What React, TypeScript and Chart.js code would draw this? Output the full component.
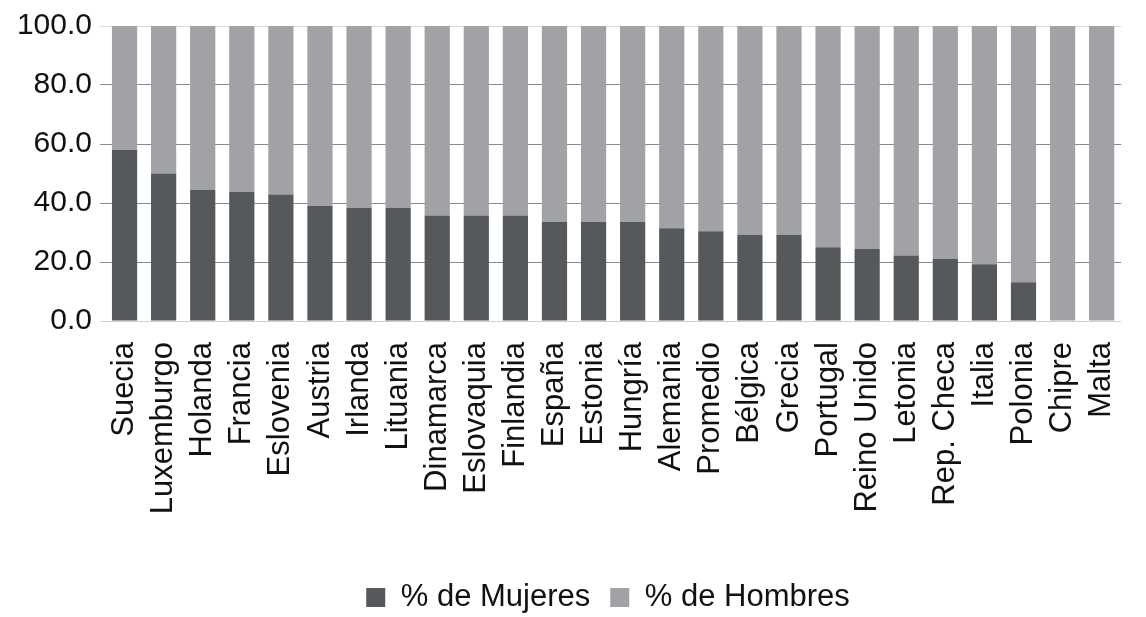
import React, { useEffect, useRef } from "react";
import { Chart, registerables } from "chart.js";

Chart.register(...registerables);

const categories = [
  "Suecia", "Luxemburgo", "Holanda", "Francia", "Eslovenia", "Austria", "Irlanda",
  "Lituania", "Dinamarca", "Eslovaquia", "Finlandia", "España", "Estonia", "Hungría",
  "Alemania", "Promedio", "Bélgica", "Grecia", "Portugal", "Reino Unido", "Letonia",
  "Rep. Checa", "Italia", "Polonia", "Chipre", "Malta",
];

const mujeres = [
  58.0, 50.0, 44.4, 43.7, 42.9, 39.0, 38.4, 38.4, 35.8, 35.8, 35.8, 33.6, 33.6,
  33.6, 31.4, 30.4, 29.2, 29.2, 25.0, 24.4, 22.2, 21.1, 19.2, 13.1, 0, 0,
];

const hombres = [
  42.0, 50.0, 55.6, 56.3, 57.1, 61.0, 61.6, 61.6, 64.2, 64.2, 64.2, 66.4, 66.4,
  66.4, 68.6, 69.6, 70.8, 70.8, 75.0, 75.6, 77.8, 78.9, 80.8, 86.9, 100, 100,
];

const seriesNames = ["% de Mujeres", "% de Hombres"];
const yTicks = { min: 0, max: 100, step: 20 };

const FONT = "'Liberation Sans', Arial, Helvetica, sans-serif";

const legendShift = {
  id: "legendShift",
  afterLayout(chart: any) {
    const lg = chart.legend;
    if (lg) {
      lg.left = 63;
      lg.right = 1153;
      lg.width = 1090;
    }
  },
};

export default function App() {
  const ref = useRef<HTMLCanvasElement | null>(null);

  useEffect(() => {
    if (!ref.current) return;
    const chart = new Chart(ref.current, {
      type: "bar",
      data: {
        labels: categories,
        datasets: [
          {
            label: seriesNames[0],
            data: mujeres,
            backgroundColor: "#56595c",
            borderWidth: 0,
          },
          {
            label: seriesNames[1],
            data: hombres,
            backgroundColor: "#a0a2a6",
            borderWidth: 0,
          },
        ],
      },
      plugins: [legendShift],
      options: {
        animation: false,
        responsive: false,
        devicePixelRatio: 1,
        layout: {
          autoPadding: false,
          padding: { left: 0, right: 7, top: 20, bottom: 0 },
        },
        datasets: {
          bar: { categoryPercentage: 1, barPercentage: 0.645 },
        },
        plugins: {
          tooltip: { enabled: false },
          legend: {
            position: "bottom",
            labels: {
              color: "#111",
              font: { family: FONT, size: 31 },
              boxWidth: 19,
              boxHeight: 19,
              padding: 20,
            },
          },
        },
        scales: {
          x: {
            stacked: true,
            grid: { display: false, drawTicks: false },
            border: { display: false },
            ticks: {
              color: "#111",
              font: { family: FONT, size: 31 },
              minRotation: 90,
              maxRotation: 90,
              padding: 21,
              autoSkip: false,
            },
            afterFit: (s: any) => {
              s.height = 241;
            },
          },
          y: {
            stacked: true,
            min: yTicks.min,
            max: yTicks.max,
            z: 1,
            border: { display: false },
            grid: {
              color: (ctx: any) => {
                const v = ctx.tick ? ctx.tick.value : 0;
                if (v === 0) return "#cfcfcf";
                if (v === 100) return "#dcdcdc";
                return "#8a8a8a";
              },
              lineWidth: 1,
              tickLength: 5,
            },
            ticks: {
              stepSize: yTicks.step,
              color: "#111",
              font: { family: FONT, size: 30 },
              padding: 8,
              callback: (v: any) => Number(v).toFixed(1),
            },
            afterFit: (s: any) => {
              s.width = 105;
            },
          },
        },
      },
    });
    return () => chart.destroy();
  }, []);

  return (
    <div
      style={{
        position: "fixed",
        left: 0,
        top: 0,
        width: 1146,
        height: 617,
        overflow: "hidden",
        background: "#fff",
      }}
    >
      <canvas ref={ref} width={1160} height={623} style={{ display: "block" }} />
    </div>
  );
}
